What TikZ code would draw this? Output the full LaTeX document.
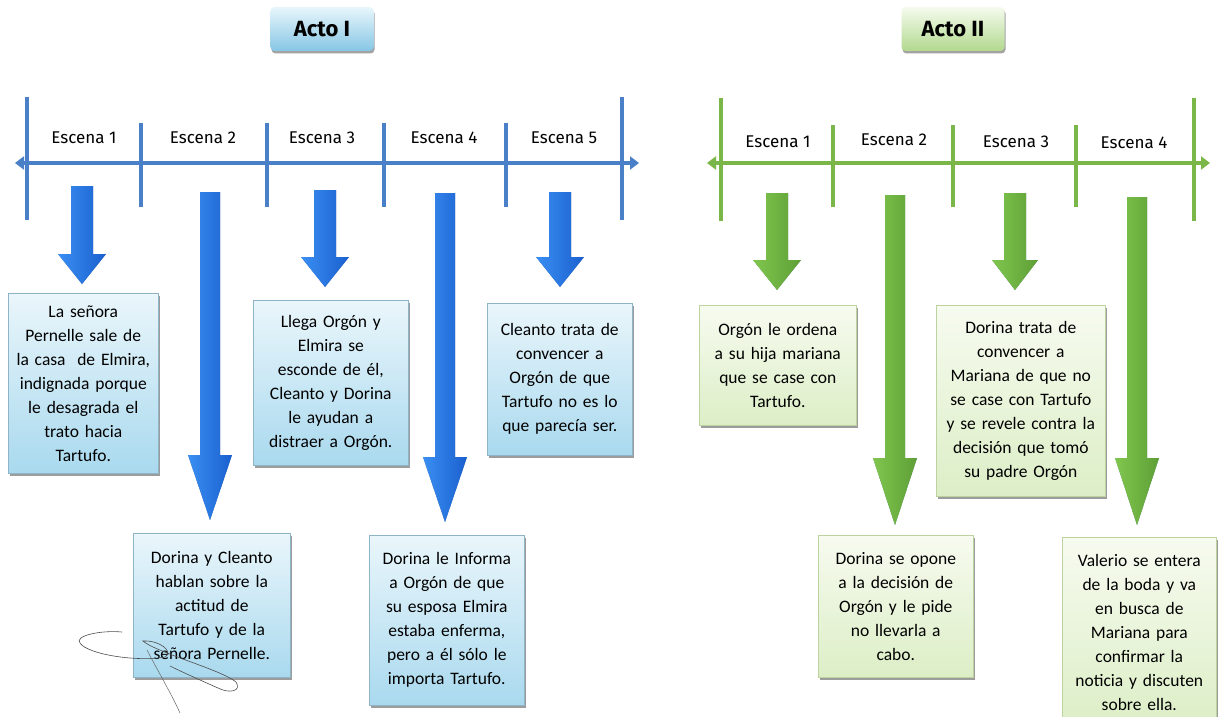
\documentclass[tikz,border=0pt]{standalone}
\usepackage{fontspec}
\setmainfont{Carlito}
\newfontfamily\labfont{Fira Sans}
\usetikzlibrary{arrows.meta,calc,shadows}

\definecolor{lineblue}{HTML}{4A80C8}
\definecolor{linegreen}{HTML}{7AB648}
\definecolor{arrblueL}{HTML}{3A8EF2}
\definecolor{arrblueR}{HTML}{1A60CF}
\definecolor{arrblueS}{HTML}{5878A0}
\definecolor{arrgreenL}{HTML}{80C64E}
\definecolor{arrgreenR}{HTML}{5E9F36}
\definecolor{arrgreenS}{HTML}{5E8C8C}
\definecolor{bluetop}{HTML}{EAF6FB}
\definecolor{bluebot}{HTML}{A9D9EE}
\definecolor{blueedge}{HTML}{8FB4C8}
\definecolor{greentop}{HTML}{F7FBF0}
\definecolor{greenbot}{HTML}{DCEEC6}
\definecolor{greenedge}{HTML}{BCD3A0}
\definecolor{titblueT}{HTML}{E8F6FC}
\definecolor{titblueB}{HTML}{86C6E4}
\definecolor{titgreenT}{HTML}{F5FBEE}
\definecolor{titgreenB}{HTML}{B2D98E}

% block arrow from a start coordinate down to just above a target node
% #1 start, #2 target node, #3 half shaft width, #4 half head width,
% #5 head length, #6 gap above target, #7 colour prefix
\newcommand\blockarrow[7]{%
  \path[fill=#7S, xshift=2.5pt, yshift=-1pt] let \p1=(#1), \p2=(#2.north) in
    (\x1-#3pt,\y1) -- (\x1+#3pt,\y1) -- (\x1+#3pt,\y2+#6pt+#5pt)
    -- (\x1+#4pt,\y2+#6pt+#5pt) -- (\x1,\y2+#6pt) -- (\x1-#4pt,\y2+#6pt+#5pt)
    -- (\x1-#3pt,\y2+#6pt+#5pt) -- cycle;
  \path[left color=#7L, right color=#7R] let \p1=(#1), \p2=(#2.north) in
    (\x1-#3pt,\y1) -- (\x1+#3pt,\y1) -- (\x1+#3pt,\y2+#6pt+#5pt)
    -- (\x1+#4pt,\y2+#6pt+#5pt) -- (\x1,\y2+#6pt) -- (\x1-#4pt,\y2+#6pt+#5pt)
    -- (\x1-#3pt,\y2+#6pt+#5pt) -- cycle;
}

\tikzset{
  tl/.style={line width=3.5pt},
  tlarrow/.style={tl, {Triangle[width=13pt,length=9pt]}-{Triangle[width=13pt,length=9pt]}},
  scene/.style={font=\labfont\fontsize{17}{19}\selectfont, inner sep=0pt},
  title/.style={rounded corners=4pt, minimum width=103pt, minimum height=44pt,
    font=\labfont\bfseries\fontsize{22}{24}\selectfont,
    drop shadow={shadow xshift=1pt, shadow yshift=-2.5pt, fill=black!60, opacity=.6}},
  titleblue/.style={title, top color=titblueT, bottom color=titblueB},
  titlegreen/.style={title, top color=titgreenT, bottom color=titgreenB},
  panel/.style={anchor=north west, align=center, inner sep=0pt, line width=0.6pt,
    font=\fontsize{17.5}{24}\selectfont,
    drop shadow={shadow xshift=1.5pt, shadow yshift=-2.5pt, fill=black!55, opacity=.7}},
  bluepanel/.style={panel, draw=blueedge, top color=bluetop, bottom color=bluebot},
  greenpanel/.style={panel, draw=greenedge, top color=greentop, bottom color=greenbot},
  boxsize/.style 2 args={text width=#1, minimum height=#2},
}

\begin{document}
\begin{tikzpicture}[x=1pt, y=-1pt]
\fill[white] (0,0) rectangle (1221,717);
\useasboundingbox (0,0) rectangle (1221,717);

% ---------- Acto I ----------
\node[titleblue] (actI) at (322,29) {Acto I};

\draw[tlarrow, lineblue] (15,163) -- (639,163);
\foreach \x in {27,622} \draw[tl, lineblue] (\x,97) -- (\x,220);
\foreach \x in {141,267,384,506} \draw[tl, lineblue] (\x,123) -- (\x,207);

\node[scene] (e11) at (84,138) {Escena 1};
\node[scene] (e12) at (203,138) {Escena 2};
\node[scene] (e13) at (322,138) {Escena 3};
\node[scene] (e14) at (444,138) {Escena 4};
\node[scene] (e15) at (564,138) {Escena 5};

\node[bluepanel, boxsize={150pt}{180pt}] (b1) at (8,293)
  {La señora\\Pernelle sale de\\la casa~ de Elmira,\\indignada porque\\le desagrada el\\trato hacia\\Tartufo.};
\node[bluepanel, boxsize={157pt}{144pt}] (b2) at (133,533)
  {Dorina y Cleanto\\hablan sobre la\\actitud de\\Tartufo y de la\\señora Pernelle.};
\node[bluepanel, boxsize={155pt}{165pt}] (b3) at (253,300)
  {Llega Orgón y\\Elmira se\\esconde de él,\\Cleanto y Dorina\\le ayudan a\\distraer a Orgón.};
\node[bluepanel, boxsize={155pt}{170pt}] (b4) at (369,535)
  {Dorina le Informa\\a Orgón de que\\su esposa Elmira\\estaba enferma,\\pero a él sólo le\\importa Tartufo.};
\node[bluepanel, boxsize={145pt}{152pt}] (b5) at (487,303)
  {Cleanto trata de\\convencer a\\Orgón de que\\Tartufo no es lo\\que parecía ser.};

\coordinate (a1) at (82,186);
\coordinate (a2) at (210,192);
\coordinate (a3) at (325,190);
\coordinate (a4) at (445,193);
\coordinate (a5) at (560,192);
\blockarrow{a1}{b1}{11}{24}{30}{9}{arrblue}
\blockarrow{a2}{b2}{10}{22}{65}{13}{arrblue}
\blockarrow{a3}{b3}{11}{24}{30}{13}{arrblue}
\blockarrow{a4}{b4}{10}{22}{65}{13}{arrblue}
\blockarrow{a5}{b5}{11}{24}{30}{16}{arrblue}

% pen signature across the second panel
\draw[black!70, line width=0.6pt]
  (122,632) .. controls (100,630) and (74,636) .. (80,643)
  .. controls (88,655) and (140,662) .. (165,657)
  .. controls (174,652) and (160,640) .. (143,641)
  .. controls (155,652) and (222,670) .. (236,682)
  .. controls (242,691) and (230,694) .. (218,688)
  .. controls (200,680) and (182,672) .. (170,666);
\draw[black!60, line width=0.5pt] (147,650) .. controls (160,675) and (172,695) .. (180,713);

% ---------- Acto II ----------
\node[titlegreen] (actII) at (953,29) {Acto II};

\draw[tlarrow, linegreen] (707,163) -- (1210,163);
\foreach \x in {721,1194} \draw[tl, linegreen] (\x,98) -- (\x,221);
\foreach \x in {833,953,1076} \draw[tl, linegreen] (\x,125) -- (\x,207);

\node[scene] (e21) at (778,142) {Escena 1};
\node[scene] (e22) at (894,140) {Escena 2};
\node[scene] (e23) at (1016,142) {Escena 3};
\node[scene] (e24) at (1134,143) {Escena 4};

\node[greenpanel, boxsize={157pt}{120pt}] (g1) at (699,305)
  {Orgón le ordena\\a su hija mariana\\que se case con\\Tartufo.};
\node[greenpanel, boxsize={155pt}{142pt}] (g2) at (818,535)
  {Dorina se opone\\a la decisión de\\Orgón y le pide\\no llevarla a\\cabo.};
\node[greenpanel, boxsize={169pt}{191pt}] (g3) at (936,305)
  {Dorina trata de\\convencer a\\Mariana de que no\\se case con Tartufo\\y se revele contra la\\decisión que tomó\\su padre Orgón};
\node[greenpanel, boxsize={154pt}{190pt}] (g4) at (1062,537)
  {Valerio se entera\\de la boda y va\\en busca de\\Mariana para\\confirmar la\\noticia y discuten\\sobre ella.};

\coordinate (c1) at (777,193);
\coordinate (c2) at (895,195);
\coordinate (c3) at (1015,193);
\coordinate (c4) at (1137,197);
\blockarrow{c1}{g1}{11}{24}{30}{15}{arrgreen}
\blockarrow{c2}{g2}{10}{22}{67}{10}{arrgreen}
\blockarrow{c3}{g3}{11}{23}{30}{15}{arrgreen}
\blockarrow{c4}{g4}{10}{22}{67}{12}{arrgreen}
\end{tikzpicture}
\end{document}
